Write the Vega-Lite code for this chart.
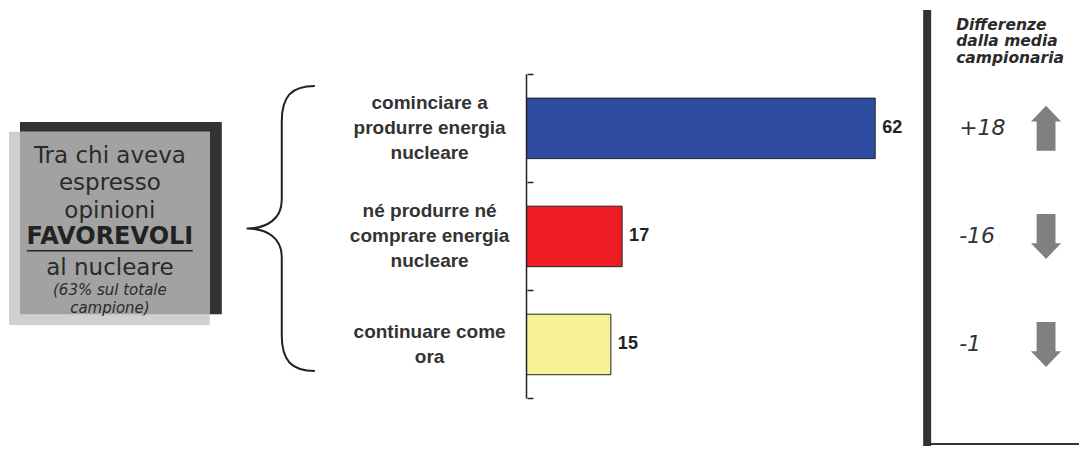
{
  "$schema": "https://vega.github.io/schema/vega-lite/v6.json",
  "width": 1080,
  "height": 450,
  "padding": 0,
  "autosize": {"type": "fit", "contains": "padding"},
  "background": "white",
  "config": {
    "view": {"stroke": null},
    "font": "Liberation Sans",
    "locale": {"number": {"decimal": ".", "thousands": ",", "grouping": [3], "currency": ["", ""], "minus": "-"}}
  },
  "datasets": {
    "risposte": [
      {"risposta": "cominciare a\nprodurre energia\nnucleare", "valore": 62, "differenza": 18},
      {"risposta": "né produrre né\ncomprare energia\nnucleare", "valore": 17, "differenza": -16},
      {"risposta": "continuare come\nora", "valore": 15, "differenza": -1}
    ]
  },
  "layer": [
    {
      "data": {"name": "risposte"},
      "layer": [
        {
          "mark": {"type": "bar", "height": {"band": 0.56}, "stroke": "#222222", "strokeWidth": 1},
          "encoding": {
            "y": {
              "field": "risposta", "type": "nominal", "sort": null,
              "scale": {"paddingInner": 0, "paddingOuter": 0.564, "align": 0.61},
              "axis": {"orient": "left", "offset": -527, "labels": false, "title": null, "domain": false, "grid": false, "tickBand": "extent", "tickSize": -6, "tickColor": "#222222", "tickWidth": 1.5}
            },
            "x": {"field": "valore", "type": "quantitative", "scale": {"domain": [-93.62, 98.24], "nice": false, "zero": false}, "axis": null},
            "color": {"field": "risposta", "type": "nominal", "sort": null, "scale": {"range": ["#2d4b9f", "#ee1d23", "#f6f295"]}, "legend": null}
          }
        },
        {
          "mark": {"type": "text", "align": "left", "baseline": "middle", "dx": 7, "fontWeight": "bold", "fontSize": 18, "font": "Liberation Sans", "color": "#222222"},
          "encoding": {
            "y": {"field": "risposta", "type": "nominal", "sort": null},
            "x": {"field": "valore", "type": "quantitative", "axis": null},
            "text": {"field": "valore", "type": "quantitative"}
          }
        },
        {
          "transform": [{"filter": "length(split(datum.risposta, '\\n')) >= 3"}],
          "mark": {"type": "text", "align": "center", "baseline": "middle", "dy": -25, "lineBreak": "\n", "lineHeight": 25, "fontWeight": "bold", "fontSize": 19, "font": "Liberation Sans", "color": "#333333"},
          "encoding": {
            "y": {"field": "risposta", "type": "nominal", "sort": null},
            "x": {"datum": -17.23, "axis": null},
            "text": {"field": "risposta", "type": "nominal"}
          }
        },
        {
          "transform": [{"filter": "length(split(datum.risposta, '\\n')) < 3"}],
          "mark": {"type": "text", "align": "center", "baseline": "middle", "dy": -12, "lineBreak": "\n", "lineHeight": 25, "fontWeight": "bold", "fontSize": 19, "font": "Liberation Sans", "color": "#333333"},
          "encoding": {
            "y": {"field": "risposta", "type": "nominal", "sort": null},
            "x": {"datum": -17.23, "axis": null},
            "text": {"field": "risposta", "type": "nominal"}
          }
        },
        {
          "mark": {"type": "text", "align": "left", "baseline": "middle", "font": "DejaVu Sans", "fontStyle": "italic", "fontSize": 22, "color": "#333333"},
          "encoding": {
            "y": {"field": "risposta", "type": "nominal", "sort": null},
            "x": {"datum": 76.93, "axis": null},
            "text": {"field": "differenza", "type": "quantitative", "format": "+d"}
          }
        },
        {
          "mark": {"type": "point", "shape": "M 0 -1 L 0.67 -0.3 L 0.42 -0.3 L 0.42 1 L -0.42 1 L -0.42 -0.3 L -0.67 -0.3 Z", "filled": true, "size": 2025, "color": "#808080", "opacity": 1},
          "encoding": {
            "y": {"field": "risposta", "type": "nominal", "sort": null},
            "x": {"datum": 92.38, "axis": null},
            "angle": {"condition": {"test": "datum.differenza < 0", "value": 180}, "value": 0}
          }
        }
      ]
    },
    {
      "data": {"values": [{}]},
      "layer": [
        {
          "mark": {"type": "rect", "color": "#333333"},
          "encoding": {
            "x": {"datum": -90.07, "axis": null}, "x2": {"datum": -54.18},
            "y": {"datum": 123, "scale": {"domain": [0, 450], "nice": false, "zero": false, "reverse": true}, "axis": null}, "y2": {"datum": 317}
          }
        },
        {
          "mark": {"type": "rect", "color": "#d0d0d0"},
          "encoding": {
            "x": {"datum": -92.02, "axis": null}, "x2": {"datum": -56.32},
            "y": {"datum": 133, "axis": null}, "y2": {"datum": 328}
          }
        },
        {
          "mark": {"type": "rect", "color": "#a2a2a2"},
          "encoding": {
            "x": {"datum": -90.07, "axis": null}, "x2": {"datum": -56.32},
            "y": {"datum": 133, "axis": null}, "y2": {"datum": 317}
          }
        },
        {
          "mark": {"type": "text", "align": "center", "baseline": "middle", "lineBreak": "\n", "lineHeight": 27.5, "font": "DejaVu Sans", "fontSize": 23, "color": "#2a2a2a", "text": "Tra chi aveva\nespresso\nopinioni"},
          "encoding": {"x": {"datum": -74.08, "axis": null}, "y": {"datum": 157, "axis": null}}
        },
        {
          "mark": {"type": "text", "align": "center", "baseline": "middle", "font": "DejaVu Sans", "fontWeight": "bold", "fontSize": 24, "color": "#222222", "text": "FAVOREVOLI"},
          "encoding": {"x": {"datum": -74.08, "axis": null}, "y": {"datum": 239, "axis": null}}
        },
        {
          "mark": {"type": "rule", "color": "#222222", "strokeWidth": 1.5},
          "encoding": {"x": {"datum": -88.83, "axis": null}, "x2": {"datum": -59.34}, "y": {"datum": 253, "axis": null}}
        },
        {
          "mark": {"type": "text", "align": "center", "baseline": "middle", "font": "DejaVu Sans", "fontSize": 23, "color": "#2a2a2a", "text": "al nucleare"},
          "encoding": {"x": {"datum": -74.08, "axis": null}, "y": {"datum": 270, "axis": null}}
        },
        {
          "mark": {"type": "text", "align": "center", "baseline": "middle", "lineBreak": "\n", "lineHeight": 18, "font": "DejaVu Sans", "fontStyle": "italic", "fontSize": 15, "color": "#2a2a2a", "text": "(63% sul totale\ncampione)"},
          "encoding": {"x": {"datum": -74.08, "axis": null}, "y": {"datum": 293, "axis": null}}
        },
        {
          "mark": {"type": "point", "shape": "M 0.232 -1 C 0.07 -1 0 -0.93 0 -0.75 L 0 -0.2 C 0 -0.07 -0.1 0 -0.246 0 C -0.1 0 0 0.07 0 0.2 L 0 0.75 C 0 0.93 0.07 1 0.232 1", "filled": false, "size": 81225, "stroke": "#222222", "strokeWidth": 2, "opacity": 1},
          "encoding": {"x": {"datum": -43.52, "axis": null}, "y": {"datum": 230.5, "axis": null}}
        },
        {
          "mark": {"type": "rule", "color": "#222222", "strokeWidth": 1.5},
          "encoding": {"x": {"datum": 0, "axis": null}, "y": {"datum": 75, "axis": null}, "y2": {"datum": 402}}
        },
        {
          "mark": {"type": "rule", "color": "#333333", "strokeWidth": 8},
          "encoding": {"x": {"datum": 71.24, "axis": null}, "y": {"datum": 10, "axis": null}, "y2": {"datum": 450}}
        },
        {
          "mark": {"type": "rule", "color": "#333333", "strokeWidth": 2},
          "encoding": {"x": {"datum": 71.24, "axis": null}, "x2": {"datum": 98.24}, "y": {"datum": 448, "axis": null}}
        },
        {
          "mark": {"type": "text", "align": "left", "baseline": "middle", "lineBreak": "\n", "lineHeight": 16.5, "font": "DejaVu Sans", "fontStyle": "italic", "fontWeight": "bold", "fontSize": 15.5, "color": "#2a2a2a", "text": "Differenze\ndalla media\ncampionaria"},
          "encoding": {"x": {"datum": 76.4, "axis": null}, "y": {"datum": 25, "axis": null}}
        }
      ]
    }
  ],
  "resolve": {"scale": {"y": "independent"}}
}
